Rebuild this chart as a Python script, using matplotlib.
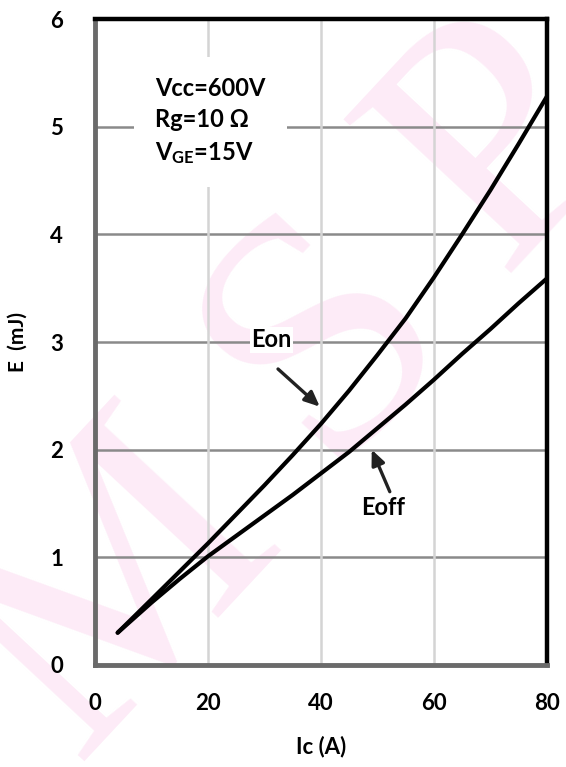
from matplotlib import pyplot as plt


ic = [4, 10, 15, 20, 25, 30, 35, 40, 45, 50, 55, 60, 65, 70, 75, 80]
e_on = [0.30, 0.61, 0.87, 1.13, 1.40, 1.67, 1.95, 2.24, 2.55, 2.88, 3.22, 3.60, 4.00, 4.41, 4.84, 5.28]
e_off = [0.30, 0.58, 0.80, 1.01, 1.20, 1.39, 1.58, 1.78, 1.98, 2.20, 2.42, 2.65, 2.89, 3.12, 3.36, 3.59]

x_ticks = [0, 20, 40, 60, 80]
y_ticks = [0, 1, 2, 3, 4, 5, 6]
conditions = ['Vcc=600V', 'Rg=10 Ω', 'V$_{\\mathregular{GE}}$=15V']

plt.rcParams['font.family'] = ['Lato', 'DejaVu Sans']
plt.rcParams['font.weight'] = 'bold'
plt.rcParams['mathtext.default'] = 'regular'

fig = plt.figure(dpi=100, figsize=(5.66, 7.67))
ax = fig.add_axes([0.168, 0.133, 0.798, 0.842])
ax.set_zorder(2)
ax.set_facecolor('none')

# pale watermark letters sitting behind the axes
for ch, (tx, ty) in [('M', (0.21, 0.23)), ('S', (0.58, 0.56)), ('P', (0.89, 0.81))]:
    fig.text(tx, ty, ch, fontsize=250, color='#fdebf7', family='Liberation Serif',
             rotation=47, ha='center', va='center', zorder=0, fontweight='normal')

ax.set_xlim(0, 80)
ax.set_ylim(0, 6)

for y in y_ticks[1:-1]:
    ax.axhline(y, color='#8a8a8a', lw=1.8, zorder=1)
for x in x_ticks[1:-1]:
    ax.axvline(x, color='#d4d4d4', lw=1.8, zorder=1)

ax.plot(ic, e_on, color='black', lw=3, solid_capstyle='round', solid_joinstyle='round', zorder=3)
ax.plot(ic, e_off, color='black', lw=3, solid_capstyle='round', solid_joinstyle='round', zorder=3)

ax.text(10.6, 5.05, '\n'.join(conditions), fontsize=17, fontweight='bold', linespacing=1.45,
        va='center', ha='left', zorder=4,
        bbox=dict(boxstyle='square,pad=0.9', facecolor='white', edgecolor='none'))

arrow = dict(arrowstyle='-|>,head_length=0.9,head_width=0.4', color='#222222', lw=2.4,
             shrinkA=0, shrinkB=0)
ax.annotate('', xy=(39.8, 2.40), xytext=(32.4, 2.75), arrowprops=arrow, zorder=4)
ax.text(31.2, 3.02, 'Eon', fontsize=17, fontweight='bold', ha='center', va='center', zorder=4,
        bbox=dict(boxstyle='square,pad=0.05', facecolor='white', edgecolor='none'))
ax.annotate('', xy=(49.0, 2.0), xytext=(52.2, 1.61), arrowprops=arrow, zorder=4)
ax.text(51.0, 1.46, 'Eoff', fontsize=17, fontweight='bold', ha='center', va='center', zorder=4)

ax.set_xticks(x_ticks)
ax.set_yticks(y_ticks)
ax.tick_params(axis='both', length=0, labelsize=16)
ax.tick_params(axis='x', pad=20)
ax.tick_params(axis='y', pad=23)
for lbl in ax.get_xticklabels() + ax.get_yticklabels():
    lbl.set_fontweight('bold')

for side in ['top', 'right']:
    ax.spines[side].set_color('black')
    ax.spines[side].set_linewidth(3.2)
for side in ['left', 'bottom']:
    ax.spines[side].set_color('#6a6a6a')
    ax.spines[side].set_linewidth(3.5)

ax.set_xlabel('Ic (A)', fontsize=16, fontweight='bold', labelpad=16)
ax.set_ylabel('E  (mJ)', fontsize=15, fontweight='bold', labelpad=16)

plt.savefig('out.png')
